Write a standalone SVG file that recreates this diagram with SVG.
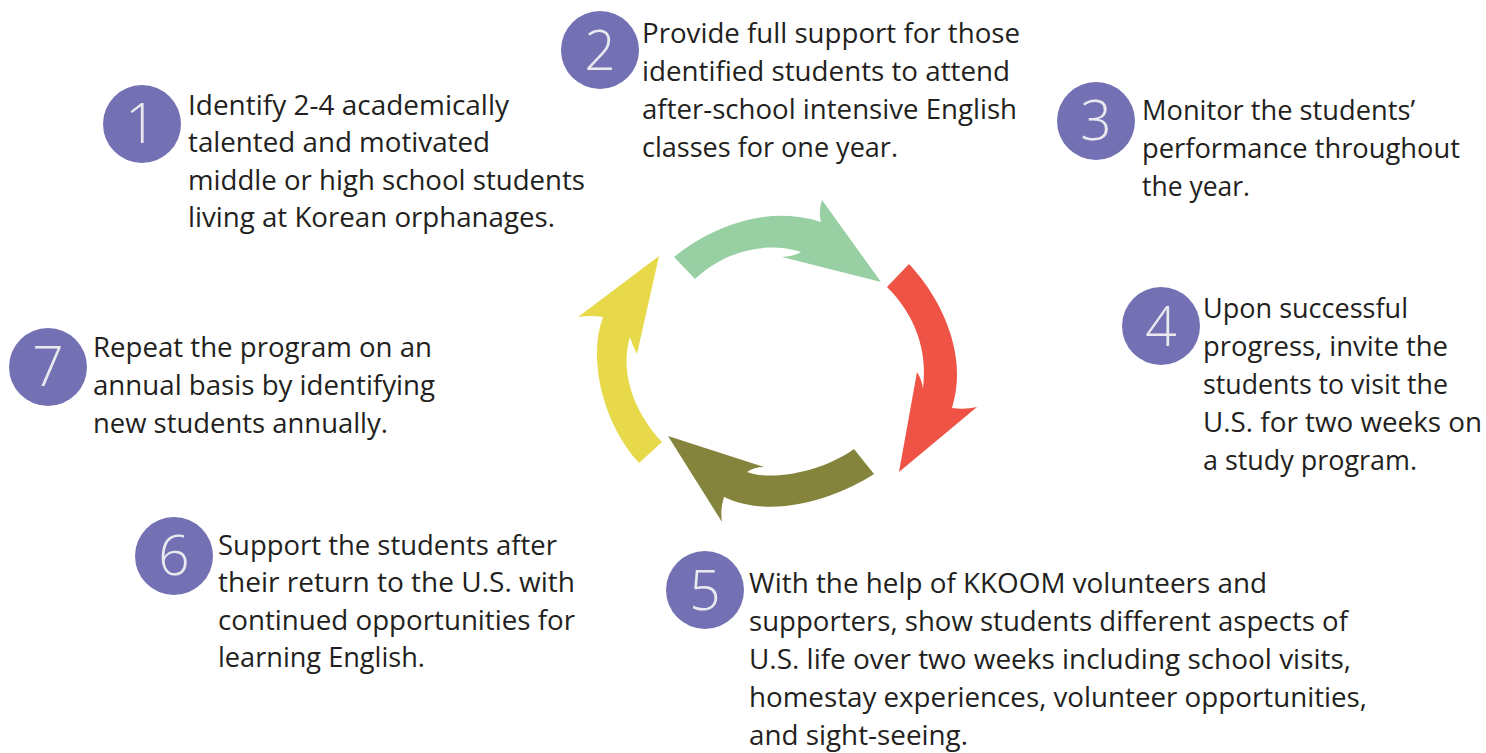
<svg xmlns="http://www.w3.org/2000/svg" width="1486" height="753" viewBox="0 0 1486 753">
<style>
.bg{fill:#ffffff}
.badge{fill:#7371b4}
.num{font-family:"Open Sans","Noto Sans",sans-serif;font-weight:300;font-size:55px;fill:#e9e9ef;text-anchor:middle}
.txt{font-family:"Open Sans","Noto Sans",sans-serif;font-size:27px;fill:#231f20}
</style>
<rect class="bg" x="0" y="0" width="1486" height="753"/>
<g id="connectors">
<path id="arrow-green" fill="#98d0a3" d="M674,257 C705,232 760,203 821,222 Q818,212 822,200 L881,282 L782,257 Q795,256 801,252 C765,241 725,251 695,279 Z"/>
<path id="arrow-red" fill="#ee5346" d="M909,264 C941,298 969,355 952,408 Q965,410 977,407 L899,472 L917,372 Q922,380 923,389 C928,350 915,315 887,287 Z"/>
<path id="arrow-olive" fill="#84843c" d="M874,474 C840,496 775,521 724,497 Q720,510 722,522 L668,436 L764,467 Q754,467 747,472 C775,482 825,470 854,449 Z"/>
<path id="arrow-yellow" fill="#e7d94a" d="M639,463 C604,425 587,360 603,317 Q590,315 578,317 L659,256 L637,354 Q632,345 630,337 C620,370 632,410 662,442 Z"/>
</g>
<g id="step1">
<circle class="badge" cx="142" cy="124" r="39"/>
<text class="num" x="141" y="143">1</text>
<text class="txt" x="188" y="115" textLength="321" lengthAdjust="spacingAndGlyphs">Identify 2-4 academically</text>
<text class="txt" x="188" y="152" textLength="302" lengthAdjust="spacingAndGlyphs">talented and motivated</text>
<text class="txt" x="188" y="190" textLength="397" lengthAdjust="spacingAndGlyphs">middle or high school students</text>
<text class="txt" x="188" y="227" textLength="367" lengthAdjust="spacingAndGlyphs">living at Korean orphanages.</text>
</g>
<g id="step2">
<circle class="badge" cx="600" cy="50" r="39"/>
<text class="num" x="600" y="70">2</text>
<text class="txt" x="642" y="43" textLength="378" lengthAdjust="spacingAndGlyphs">Provide full support for those</text>
<text class="txt" x="642" y="81" textLength="368" lengthAdjust="spacingAndGlyphs">identified students to attend</text>
<text class="txt" x="642" y="119" textLength="375" lengthAdjust="spacingAndGlyphs">after-school intensive English</text>
<text class="txt" x="642" y="157" textLength="256" lengthAdjust="spacingAndGlyphs">classes for one year.</text>
</g>
<g id="step3">
<circle class="badge" cx="1096" cy="121" r="39"/>
<text class="num" x="1096" y="140">3</text>
<text class="txt" x="1142" y="120" textLength="273" lengthAdjust="spacingAndGlyphs">Monitor the students’</text>
<text class="txt" x="1142" y="158" textLength="318" lengthAdjust="spacingAndGlyphs">performance throughout</text>
<text class="txt" x="1142" y="196" textLength="108" lengthAdjust="spacingAndGlyphs">the year.</text>
</g>
<g id="step4">
<circle class="badge" cx="1161" cy="326" r="39"/>
<text class="num" x="1161" y="346">4</text>
<text class="txt" x="1203" y="318" textLength="205" lengthAdjust="spacingAndGlyphs">Upon successful</text>
<text class="txt" x="1203" y="356" textLength="245" lengthAdjust="spacingAndGlyphs">progress, invite the</text>
<text class="txt" x="1203" y="394" textLength="245" lengthAdjust="spacingAndGlyphs">students to visit the</text>
<text class="txt" x="1203" y="432" textLength="279" lengthAdjust="spacingAndGlyphs">U.S. for two weeks on</text>
<text class="txt" x="1203" y="470" textLength="214" lengthAdjust="spacingAndGlyphs">a study program.</text>
</g>
<g id="step5">
<circle class="badge" cx="705" cy="590" r="39"/>
<text class="num" x="705" y="610">5</text>
<text class="txt" x="749" y="593" textLength="518" lengthAdjust="spacingAndGlyphs">With the help of KKOOM volunteers and</text>
<text class="txt" x="749" y="631" textLength="599" lengthAdjust="spacingAndGlyphs">supporters, show students different aspects of</text>
<text class="txt" x="749" y="669" textLength="602" lengthAdjust="spacingAndGlyphs">U.S. life over two weeks including school visits,</text>
<text class="txt" x="749" y="707" textLength="618" lengthAdjust="spacingAndGlyphs">homestay experiences, volunteer opportunities,</text>
<text class="txt" x="749" y="745" textLength="219" lengthAdjust="spacingAndGlyphs">and sight-seeing.</text>
</g>
<g id="step6">
<circle class="badge" cx="174" cy="556" r="39"/>
<text class="num" x="174" y="575">6</text>
<text class="txt" x="218" y="555" textLength="339" lengthAdjust="spacingAndGlyphs">Support the students after</text>
<text class="txt" x="218" y="592" textLength="357" lengthAdjust="spacingAndGlyphs">their return to the U.S. with</text>
<text class="txt" x="218" y="630" textLength="357" lengthAdjust="spacingAndGlyphs">continued opportunities for</text>
<text class="txt" x="218" y="667" textLength="207" lengthAdjust="spacingAndGlyphs">learning English.</text>
</g>
<g id="step7">
<circle class="badge" cx="48" cy="367" r="39"/>
<text class="num" x="48" y="386">7</text>
<text class="txt" x="93" y="357" textLength="339" lengthAdjust="spacingAndGlyphs">Repeat the program on an</text>
<text class="txt" x="93" y="395" textLength="342" lengthAdjust="spacingAndGlyphs">annual basis by identifying</text>
<text class="txt" x="93" y="433" textLength="295" lengthAdjust="spacingAndGlyphs">new students annually.</text>
</g>
</svg>
